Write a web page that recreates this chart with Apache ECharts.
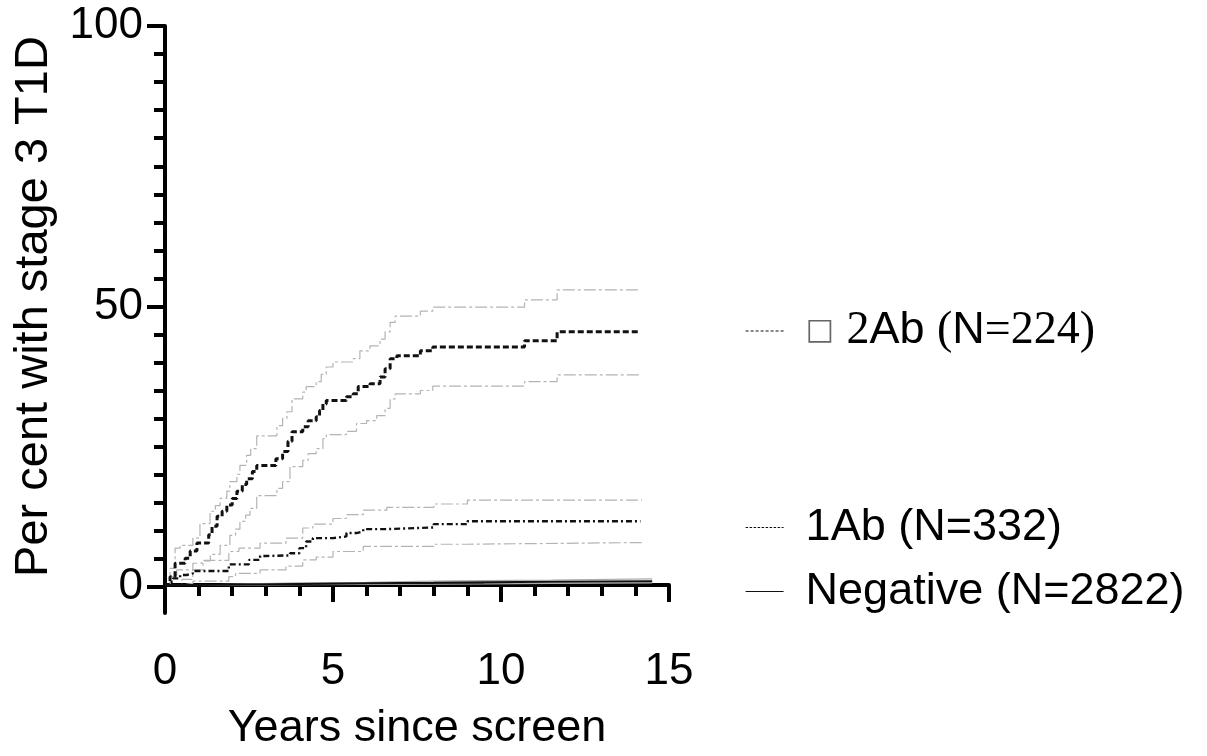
<!DOCTYPE html>
<html>
<head>
<meta charset="utf-8">
<script src="https://cdn.jsdelivr.net/npm/echarts@6/dist/echarts.min.js"></script>
<style>
html,body{margin:0;padding:0;background:#fff;}
#chart{width:1207px;height:756px;}
</style>
</head>
<body>
<div id="chart"></div>
<script>
// ---- data (years since screen, per cent with stage 3 T1D) ----
const seriesNames = ['□ 2Ab (N=224)', '1Ab (N=332)', 'Negative (N=2822)'];
const xTickLabels = [0, 5, 10, 15];
const yTickLabels = [0, 50, 100];

const ab2Time  = [0,0.15,0.3,0.6,0.75,0.95,1.3,1.4,1.55,1.7,1.84,2.0,2.14,2.3,2.43,2.6,2.73,3.3,3.5,3.66,3.78,4.1,4.26,4.5,4.6,4.7,4.8,5.4,5.6,5.75,6.1,6.4,6.55,6.7,6.9,7.6,7.97,10.7,11.67,14.14];
const ab2Pct   = [0,1.5,3.9,4.8,6.1,7.5,9,10.5,12.3,13.2,14.3,15.5,16.8,18,19,20.3,21.4,22.6,23.9,25.7,27.4,28.3,29.4,30.1,31.2,32.4,33,33.7,34.2,35.5,36,37.2,38.7,40.5,41,41.9,42.6,43.7,45.3,45.3];

const ab2UpTime = [0,0.15,0.3,0.45,0.83,1.04,1.34,1.5,1.64,1.84,1.93,2.14,2.23,2.43,2.55,2.73,3.33,3.5,3.63,3.78,4.1,4.2,4.5,4.65,4.8,5.0,5.6,5.8,6.1,6.4,6.55,6.7,6.85,7.6,7.97,10.7,11.67,14.14];
const ab2UpPct  = [0,3,6.6,7.1,8.4,11,13.2,14.2,15.5,16.8,18.5,19.8,21.4,23.2,24.4,26.7,28.5,29.8,31,33.3,34.5,35.5,36.4,37.7,39,39.9,40.5,41.9,42.8,44,45.3,47,48.1,49,49.7,51,52.8,52.8];

const ab2LoTime = [0,0.5,0.83,1.13,1.35,1.64,1.93,2.1,2.23,2.4,2.53,2.73,3.33,3.5,3.72,4.1,4.26,4.5,4.7,4.8,5.4,5.7,6.0,6.3,6.55,6.7,6.85,7.6,7.97,10.7,11.67,14.14];
const ab2LoPct  = [0,1,2.7,4.3,5.5,7.1,8.9,10,11.4,12.5,13.7,16,17.3,18.5,21.2,22.3,23.5,24.4,26.2,26.9,27.5,28.9,29.4,30.3,31.6,33.3,34.2,34.8,35.6,36.4,37.6,37.6];

const ab1Time  = [0,0.15,0.24,0.45,0.65,0.83,1.9,2.5,2.83,3.0,3.72,4.0,4.2,4.4,5.0,5.4,5.7,5.9,6.6,8.0,9.0,14.15];
const ab1Pct   = [0,0.6,1.2,1.8,2.1,2.5,3.7,4.5,5.2,5.3,5.7,6.6,7.8,8.4,8.7,9.3,9.6,10,10.3,10.9,11.4,11.4];

const ab1UpTime = [0,0.15,0.35,0.83,1.1,1.9,2.2,2.83,3.6,4.1,4.4,5.0,5.4,5.9,6.6,8.0,9.0,14.2];
const ab1UpPct  = [0,1.5,2.7,3.9,4.4,6,6.6,7.5,8.4,10.2,10.9,11.9,12.6,13.4,13.9,14.5,15.2,15.2];

const ab1LoTime = [0,0.5,0.83,1.9,2.1,2.83,3.6,4.1,4.5,5.0,5.9,8.0,9.0,14.2];
const ab1LoPct  = [0,0.3,0.7,1.5,2.1,2.7,3.4,4.5,5.0,6,6.9,7.3,7.6,7.6];

const negTime  = [0,1,2.5,4,6,8,9.5,11.5,14.5];
const negPct   = [0,0.1,0.2,0.3,0.4,0.5,0.6,0.7,0.7];
const negUpPct = [0,0.2,0.4,0.5,0.7,0.8,0.9,1.1,1.1];
const negLoPct = [0,0,0.05,0.1,0.15,0.2,0.3,0.4,0.4];

function pairs(t, v) { return t.map((x, i) => [x, v[i]]); }

const FONT = 'Liberation Sans, Arial, sans-serif';
const SERIF = 'Liberation Serif, Times New Roman, serif';
const ciStyle = { color: '#b4b4b4', width: 1.2, type: [12, 3, 3, 3] };

function lineSeries(name, data, lineStyle, z) {
  return {
    name: name, type: 'line', step: 'end', xAxisIndex: 0, yAxisIndex: 0,
    data: data, showSymbol: false, symbol: 'none', lineStyle: lineStyle,
    itemStyle: { color: lineStyle.color }, z: z || 2, silent: true
  };
}

const chart = echarts.init(document.getElementById('chart'), null, { renderer: 'canvas' });

function makeLegend(name, top, lineType, extra) {
  return Object.assign({
    orient: 'vertical', left: 745, top: top, padding: 0,
    itemWidth: 38, itemHeight: 14, selectedMode: false,
    data: [name],
    itemStyle: { color: 'rgba(0,0,0,0)', opacity: 0, borderWidth: 0 },
    lineStyle: { width: 1.2, type: lineType, color: '#111' },
    textStyle: { fontFamily: FONT, fontSize: 45, color: '#000', padding: [0, 0, 0, 17] }
  }, extra || {});
}

const option = {
  animation: false,
  backgroundColor: '#fff',
  grid: [
    { left: 165, right: 538, top: 26, bottom: 141 },
    { left: 165, right: 538, top: 26, bottom: 169 }
  ],
  xAxis: [
    {
      gridIndex: 0, type: 'value', min: 0, max: 15, interval: 5,
      axisLine: { show: true, lineStyle: { color: '#000', width: 4 } },
      axisTick: { show: true, length: 17, lineStyle: { color: '#000', width: 4 } },
      minorTick: { show: true, splitNumber: 5, length: 11, lineStyle: { color: '#000', width: 4 } },
      splitLine: { show: false },
      axisLabel: {
        fontFamily: FONT, fontSize: 44, color: '#000', margin: 37,
        formatter: v => xTickLabels.includes(v) ? String(v) : ''
      },
      name: 'Years since screen', nameLocation: 'middle', nameGap: 93,
      nameTextStyle: { fontFamily: FONT, fontSize: 45, color: '#000' }
    },
    { gridIndex: 1, type: 'value', min: 0, max: 15, show: false }
  ],
  yAxis: [
    {
      gridIndex: 0, type: 'value', min: -5, max: 100, interval: 5,
      axisLine: { show: true, lineStyle: { color: '#000', width: 4 } },
      axisTick: { show: false }, axisLabel: { show: false }, splitLine: { show: false }
    },
    {
      gridIndex: 1, type: 'value', min: 0, max: 100, interval: 50,
      axisLine: { show: false },
      axisTick: { show: true, length: 18, lineStyle: { color: '#000', width: 4 } },
      minorTick: { show: true, splitNumber: 10, length: 11, lineStyle: { color: '#000', width: 4 } },
      splitLine: { show: false },
      axisLabel: {
        fontFamily: FONT, fontSize: 44, color: '#000', margin: 22,
        formatter: v => yTickLabels.includes(v) ? String(v) : ''
      },
      name: 'Per cent with stage 3 T1D', nameLocation: 'middle', nameGap: 107,
      nameTextStyle: { fontFamily: FONT, fontSize: 47, color: '#000' }
    }
  ],
  legend: [
    makeLegend(seriesNames[0], 308, [3, 2], {
      formatter: () => '{box|□} {serif|2}Ab {serif|(}N{serif|=224)}',
      textStyle: {
        fontFamily: FONT, fontSize: 45, color: '#000', padding: [0, 0, 0, 17],
        rich: {
          box: { fontFamily: 'DejaVu Sans', fontSize: 30, color: '#666' },
          serif: { fontFamily: SERIF, fontSize: 46, color: '#000' }
        }
      }
    }),
    makeLegend(seriesNames[1], 505, [2.5, 1.5]),
    makeLegend(seriesNames[2], 569, 'solid')
  ],
  series: [
    lineSeries('2Ab upper', pairs(ab2UpTime, ab2UpPct), ciStyle, 1),
    lineSeries('2Ab lower', pairs(ab2LoTime, ab2LoPct), ciStyle, 1),
    lineSeries(seriesNames[0], pairs(ab2Time, ab2Pct), { color: '#111', width: 3, type: [6, 3] }, 3),
    lineSeries('1Ab upper', pairs(ab1UpTime, ab1UpPct), ciStyle, 1),
    lineSeries('1Ab lower', pairs(ab1LoTime, ab1LoPct), ciStyle, 1),
    lineSeries(seriesNames[1], pairs(ab1Time, ab1Pct), { color: '#111', width: 2.4, type: [6, 3, 2, 3] }, 3),
    lineSeries('Negative upper', pairs(negTime, negUpPct), { color: '#aaa', width: 1.2, type: 'solid' }, 1),
    lineSeries('Negative lower', pairs(negTime, negLoPct), { color: '#aaa', width: 1.2, type: 'solid' }, 1),
    lineSeries(seriesNames[2], pairs(negTime, negPct), { color: '#111', width: 2, type: 'solid' }, 3)
  ]
};
chart.setOption(option);
</script>
</body>
</html>
